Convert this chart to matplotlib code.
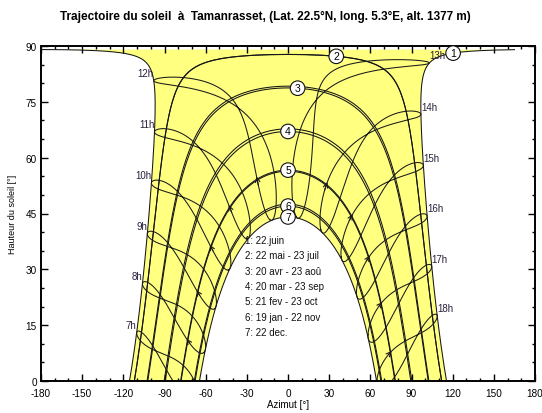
import numpy as np
import matplotlib.pyplot as plt
from matplotlib.ticker import MultipleLocator

plt.rcParams['font.family'] = ['Liberation Sans', 'DejaVu Sans']
plt.rcParams['axes.unicode_minus'] = False

# site
latitude = 22.5
longitude = 5.3
utc_offset = 1

# day of year of the dates drawn for each numbered curve
curve_days = [[173], [142, 204], [110, 235], [79, 266], [52, 296], [19, 326], [356]]
legend_lines = ["1: 22.juin", "2: 22 mai - 23 juil", "3: 20 avr - 23 aoû",
                "4: 20 mar - 23 sep", "5: 21 fev - 23 oct", "6: 19 jan - 22 nov",
                "7: 22 dec."]

# legal hours of the hour loops
hours = list(range(7, 19))
arrow_day = 52

# hour angle (deg) where the curve number is written
label_ha = [1.8, 1.7, 1.4, 0.0, 0.0, 0.0, 0.0]


def declination(doy):
    b = 2 * np.pi * (np.asarray(doy) - 1) / 365
    return (0.006918 - 0.399912 * np.cos(b) + 0.070257 * np.sin(b)
            - 0.006758 * np.cos(2 * b) + 0.000907 * np.sin(2 * b)
            - 0.002697 * np.cos(3 * b) + 0.00148 * np.sin(3 * b))


def equation_of_time(doy):
    b = 2 * np.pi * (np.asarray(doy) - 1) / 365
    return 229.18 * (0.000075 + 0.001868 * np.cos(b) - 0.032077 * np.sin(b)
                     - 0.014615 * np.cos(2 * b) - 0.040849 * np.sin(2 * b))


def sun_position(decl, hour_angle):
    lat = np.radians(latitude)
    h = np.radians(hour_angle)
    sin_alt = np.sin(lat) * np.sin(decl) + np.cos(lat) * np.cos(decl) * np.cos(h)
    alt = np.degrees(np.arcsin(np.clip(sin_alt, -1, 1)))
    az = np.degrees(np.arctan2(np.sin(h), np.sin(lat) * np.cos(h) - np.cos(lat) * np.tan(decl)))
    return az, alt


def day_path(doy, n=721):
    d = declination(doy)
    h0 = np.degrees(np.arccos(-np.tan(np.radians(latitude)) * np.tan(d)))
    return sun_position(d, np.linspace(-h0, h0, n))


def hour_loop(hour, days):
    solar = hour + (longitude - 15 * utc_offset) / 15 + equation_of_time(days) / 60
    return sun_position(declination(days), 15 * (solar - 12))


def break_jumps(az, alt):
    # cut the line where the azimuth wraps from -180 to 180
    idx = np.where(np.abs(np.diff(az)) > 180)[0] + 1
    return np.insert(az, idx, np.nan), np.insert(alt, idx, np.nan)


fig = plt.figure(figsize=(5.42, 4.14), dpi=100)
ax = fig.add_axes([41 / 542, 1 - 382 / 414, 494 / 542, 335 / 414])

# yellow band between the summer and winter paths
june_az, june_alt = day_path(curve_days[0][0])
dec_az, dec_alt = day_path(curve_days[-1][0])
ax.fill(np.r_[june_az, dec_az[::-1]], np.r_[june_alt, dec_alt[::-1]],
        color='#ffff80', lw=0, zorder=0)

for days in curve_days:
    for doy in days:
        az, alt = break_jumps(*day_path(doy))
        ax.plot(az, alt, color='#151515', lw=0.75, zorder=2)

year = np.arange(1, 367)
for hour in hours:
    az, alt = hour_loop(hour, year)
    ax.plot(az, alt, color='#1a1a1a', lw=0.75, zorder=2)
    # arrow showing the direction of the year
    a_az, a_alt = hour_loop(hour, np.array([arrow_day - 5, arrow_day + 2]))
    if a_alt.min() > 1:
        ax.annotate('', xy=(a_az[1], a_alt[1]), xytext=(a_az[0], a_alt[0]),
                    arrowprops=dict(arrowstyle='->', lw=0.8, color='#1a1a1a',
                                    mutation_scale=8, shrinkA=0, shrinkB=0),
                    zorder=3)
    # hour name next to the summer end of the loop
    s_az, s_alt = hour_loop(hour, np.array([curve_days[0][0]]))
    ha = 'right' if hour < 13 else 'left'
    ax.annotate(f'{hour}h', (s_az[0], s_alt[0]), xytext=(0, 2),
                textcoords='offset points', ha=ha, va='bottom',
                fontsize=7, color='#2a1f3a', zorder=4)

# curve numbers
for i, days in enumerate(curve_days):
    az, alt = sun_position(declination(days[0]), label_ha[i])
    ax.text(az, alt, str(i + 1), ha='center', va='center', fontsize=7.5,
            zorder=5, bbox=dict(boxstyle='circle,pad=0.22', fc='white',
                                ec='#111111', lw=0.8))

for i, line in enumerate(legend_lines):
    ax.text(0.413, 0.421 - i * 0.0457, line, transform=ax.transAxes,
            ha='left', va='center', fontsize=7, color='#111111', zorder=4)

ax.set_xlim(-180, 180)
ax.set_ylim(0, 90)
ax.xaxis.set_major_locator(MultipleLocator(30))
ax.xaxis.set_minor_locator(MultipleLocator(10))
ax.yaxis.set_major_locator(MultipleLocator(15))
ax.yaxis.set_minor_locator(MultipleLocator(5))
ax.tick_params(which='both', direction='in', top=True, right=True,
               labelsize=7.2, width=1, pad=3)
ax.tick_params(axis='x', which='major', pad=5)
ax.tick_params(which='major', length=5)
ax.tick_params(which='minor', length=2.5)
for s in ax.spines.values():
    s.set_linewidth(1.4)

ax.set_xlabel('Azimut [°]', fontsize=7, labelpad=1)
ax.set_ylabel('Hauteur du soleil [°]', fontsize=6.5, labelpad=6)
fig.text(0.49, 0.958, 'Trajectoire du soleil  à  Tamanrasset, (Lat. 22.5°N, long. 5.3°E, alt. 1377 m)',
         ha='center', va='center', fontsize=8.5, fontweight='bold',
         family=['Liberation Sans Narrow', 'Liberation Sans', 'DejaVu Sans'])

fig.savefig('out.png', dpi=100)
